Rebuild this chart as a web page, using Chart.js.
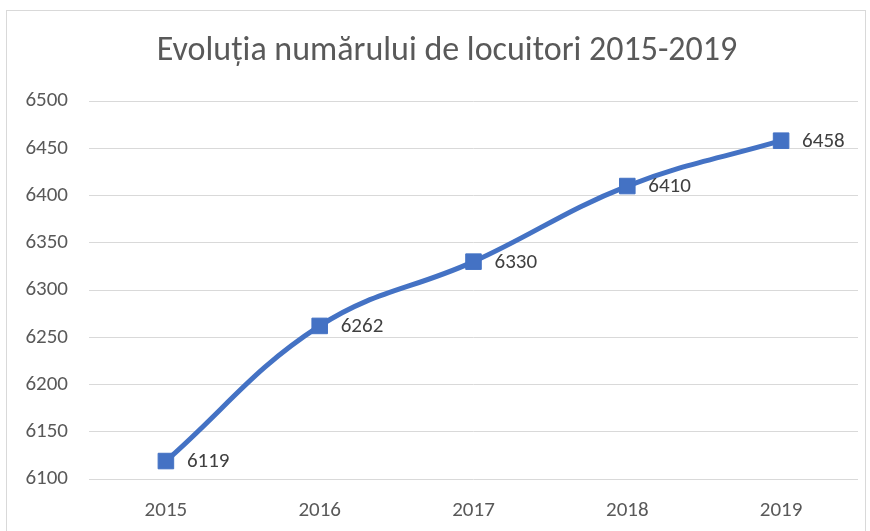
<!DOCTYPE html>
<html>
<head>
<meta charset="utf-8">
<script src="https://cdn.jsdelivr.net/npm/chart.js@4"></script>
<style>
  body { margin: 0; background: #fff; }
  #wrap { width: 870px; height: 531px; }
</style>
</head>
<body>
<div id="wrap"><canvas id="popChart" width="870" height="531"></canvas></div>
<script>
const years = ['2015', '2016', '2017', '2018', '2019'];
const inhabitants = [6119, 6262, 6330, 6410, 6458];
const yTicks = [6100, 6150, 6200, 6250, 6300, 6350, 6400, 6450, 6500];
const chartTitle = 'Evoluția numărului de locuitori 2015-2019';

const FONT = 'Carlito, "Open Sans", sans-serif';

// frame around the whole chart + title, like the office export
const framePlugin = {
    id: 'frame',
    beforeDraw(chart) {
        const ctx = chart.ctx;
        ctx.save();
        ctx.fillStyle = '#fff';
        ctx.fillRect(0, 0, chart.width, chart.height);
        ctx.strokeStyle = '#d9d9d9';
        ctx.lineWidth = 1;
        ctx.strokeRect(6.5, 10.5, 859, 530);
        ctx.font = '34px ' + FONT;
        ctx.fillStyle = '#595959';
        ctx.textAlign = 'center';
        ctx.textBaseline = 'middle';
        ctx.fillText(chartTitle, 447, 51);
        ctx.restore();
    }
};

// value labels to the right of each marker
const labelPlugin = {
    id: 'valueLabels',
    afterDatasetsDraw(chart) {
        const ctx = chart.ctx;
        const meta = chart.getDatasetMeta(0);
        ctx.save();
        ctx.font = '21px ' + FONT;
        ctx.fillStyle = '#404040';
        ctx.textAlign = 'left';
        ctx.textBaseline = 'middle';
        meta.data.forEach((pt, i) => {
            ctx.fillText(inhabitants[i], pt.x + 21, pt.y + 1);
        });
        ctx.restore();
    }
};

new Chart(document.getElementById('popChart').getContext('2d'), {
    type: 'line',
    data: {
        labels: years,
        datasets: [{
            data: inhabitants,
            borderColor: '#4472c4',
            backgroundColor: '#4472c4',
            borderWidth: 5,
            tension: 0.4,
            pointStyle: 'rect',
            pointRadius: 11,
            pointBorderWidth: 1,
            pointBackgroundColor: '#4472c4',
            pointBorderColor: '#4472c4'
        }]
    },
    options: {
        responsive: false,
        animation: false,
        layout: { padding: { left: 0, right: 12, top: 101, bottom: 0 } },
        plugins: {
            legend: { display: false },
            tooltip: { enabled: false },
            title: { display: false }
        },
        scales: {
            x: {
                offset: true,
                afterFit(scale) { scale.height = 52; },
                grid: { display: false, drawTicks: false },
                border: { display: false },
                ticks: { color: '#595959', font: { family: FONT, size: 21 }, padding: 19 }
            },
            y: {
                min: 6100,
                max: 6500,
                afterBuildTicks(scale) {
                    scale.ticks = yTicks.map(v => ({ value: v }));
                },
                afterFit(scale) { scale.width = 89; },
                grid: { color: '#d9d9d9', lineWidth: 1, drawTicks: false },
                border: { display: false },
                ticks: {
                    color: '#595959',
                    font: { family: FONT, size: 21 },
                    padding: 21,
                    callback: v => String(v)
                }
            }
        }
    },
    plugins: [framePlugin, labelPlugin]
});
</script>
</body>
</html>
